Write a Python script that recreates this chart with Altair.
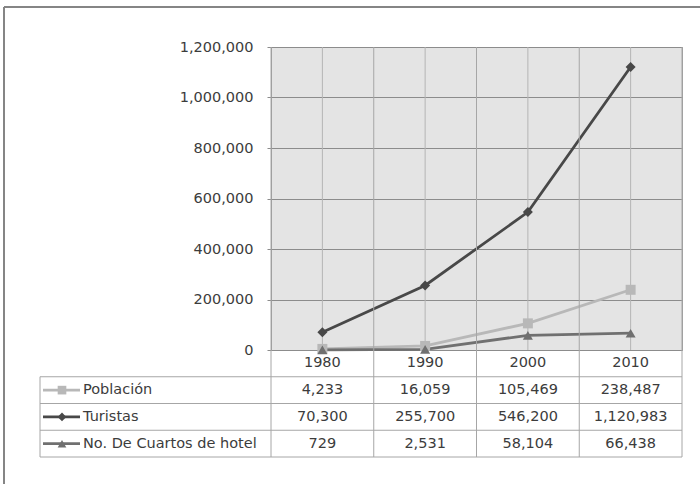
import altair as alt
import pandas as pd

# Source values
years = ["1980", "1990", "2000", "2010"]
series_names = ["Población", "Turistas", "No. De Cuartos de hotel"]
poblacion = [4233, 16059, 105469, 238487]
turistas = [70300, 255700, 546200, 1120983]
cuartos = [729, 2531, 58104, 66438]
y_ticks = [0, 200000, 400000, 600000, 800000, 1000000, 1200000]

series_colors = ["#b8b8b8", "#484848", "#707070"]
series_shapes = ["square", "diamond", "triangle-up"]

# Layout (pixels)
W, H = 411, 303
ROW_H = 26.75
HEADER_KEY = "header"
LABEL_COL = -231          # left edge of the row-label column
FONT = "DejaVu Sans"
FONT_SIZE = 14.5
TEXT_COLOR = "#3c3c3c"

rows = []
for name, vals in zip(series_names, [poblacion, turistas, cuartos]):
    for yr, v in zip(years, vals):
        rows.append({"year": yr, "series": name, "value": v})
df = pd.DataFrame(rows)
years_df = pd.DataFrame({"year": years, "row": [HEADER_KEY] * len(years)})
names_df = pd.DataFrame({"series": series_names})

x_scale = alt.Scale(type="band", domain=years, paddingInner=0, paddingOuter=0)
color_scale = alt.Scale(domain=series_names, range=series_colors)
shape_scale = alt.Scale(domain=series_names, range=series_shapes)

x_center = alt.X("year:N", scale=x_scale, bandPosition=0.5, axis=None)
x_start = alt.X("year:N", scale=x_scale, bandPosition=0, axis=None)

y_axis = alt.Axis(
    values=y_ticks, format=",.0f", formatType="number", title=None, domain=False,
    grid=True, gridColor="#8c8c8c", gridWidth=1,
    ticks=True, tickSize=4, tickColor="#8c8c8c",
    labelFont=FONT, labelFontSize=FONT_SIZE, labelColor=TEXT_COLOR, labelPadding=14,
)
y_val = alt.Y("value:Q", scale=alt.Scale(domain=[0, 1200000], nice=False), axis=y_axis)

# ---- plot area ----
vgrid_center = alt.Chart(years_df).mark_rule(color="#b4b4b4", strokeWidth=1).encode(
    x=x_center, y=alt.value(0), y2=alt.value(H)
)
vgrid_start = alt.Chart(years_df).mark_rule(color="#a6a6a6", strokeWidth=1).encode(
    x=x_start, y=alt.value(0), y2=alt.value(H + 4 * ROW_H)
)
right_edge = alt.Chart(years_df.head(1)).mark_rule(color="#a6a6a6", strokeWidth=1).encode(
    x=alt.value(W), y=alt.value(0), y2=alt.value(H + 4 * ROW_H)
)

lines = alt.Chart(df).mark_line(strokeWidth=2.8).encode(
    x=x_center,
    y=y_val,
    color=alt.Color("series:N", scale=color_scale, legend=None),
    detail="series:N",
)
points = alt.Chart(df).mark_point(filled=True, opacity=1, size=100).encode(
    x=x_center,
    y=y_val,
    color=alt.Color("series:N", scale=color_scale, legend=None),
    shape=alt.Shape("series:N", scale=shape_scale, legend=None),
)

plot = alt.layer(vgrid_center, lines, points)

# ---- data table below the plot ----
row_scale = alt.Scale(
    type="band", domain=[HEADER_KEY] + series_names,
    range=[H, H + 4 * ROW_H], paddingInner=0, paddingOuter=0,
)
y_row = alt.Y("series:N", scale=row_scale, axis=None)

header_text = alt.Chart(years_df).mark_text(
    font=FONT, fontSize=FONT_SIZE, color=TEXT_COLOR, baseline="middle"
).encode(
    x=x_center,
    y=alt.Y("row:N", scale=row_scale, axis=None),
    text="year:N",
)
value_text = alt.Chart(df).mark_text(
    font=FONT, fontSize=FONT_SIZE, color=TEXT_COLOR, baseline="middle"
).encode(
    x=x_center,
    y=y_row,
    text=alt.Text("value:Q", format=",.0f"),
)
row_lines_top = alt.Chart(names_df).mark_rule(color="#a6a6a6", strokeWidth=1).encode(
    y=alt.Y("series:N", scale=row_scale, axis=None, bandPosition=0),
    x=alt.value(LABEL_COL), x2=alt.value(W),
)
row_line_bottom = alt.Chart(names_df.tail(1)).mark_rule(color="#a6a6a6", strokeWidth=1).encode(
    y=alt.Y("series:N", scale=row_scale, axis=None, bandPosition=1),
    x=alt.value(LABEL_COL), x2=alt.value(W),
)
label_col_edge = alt.Chart(names_df.head(1)).mark_rule(color="#a6a6a6", strokeWidth=1).encode(
    x=alt.value(LABEL_COL),
    y=alt.Y("series:N", scale=row_scale, axis=None, bandPosition=0),
    y2=alt.value(H + 4 * ROW_H),
)
key_lines = alt.Chart(names_df).mark_rule(strokeWidth=2.8).encode(
    y=alt.Y("series:N", scale=row_scale, axis=None, bandPosition=0.5),
    x=alt.value(LABEL_COL + 3), x2=alt.value(LABEL_COL + 40),
    color=alt.Color("series:N", scale=color_scale, legend=None),
)
key_points = alt.Chart(names_df).mark_point(filled=True, opacity=1, size=75).encode(
    y=alt.Y("series:N", scale=row_scale, axis=None, bandPosition=0.5),
    x=alt.value(LABEL_COL + 22),
    color=alt.Color("series:N", scale=color_scale, legend=None),
    shape=alt.Shape("series:N", scale=shape_scale, legend=None),
)
key_labels = alt.Chart(names_df).mark_text(
    font=FONT, fontSize=FONT_SIZE, color=TEXT_COLOR, align="left", baseline="middle"
).encode(
    y=alt.Y("series:N", scale=row_scale, axis=None, bandPosition=0.5),
    x=alt.value(LABEL_COL + 43),
    text="series:N",
)

# outer frame of the figure
frame_top = alt.Chart(names_df.head(1)).mark_rule(color="#858585", strokeWidth=2).encode(
    x=alt.value(-267), x2=alt.value(W + 40), y=alt.value(-40)
)
frame_left = alt.Chart(names_df.head(1)).mark_rule(color="#858585", strokeWidth=2).encode(
    x=alt.value(-267), y=alt.value(-40), y2=alt.value(H + 160)
)

table = alt.layer(
    row_lines_top, row_line_bottom, label_col_edge, vgrid_start, right_edge,
    header_text, value_text, key_lines, key_points, key_labels,
    frame_top, frame_left,
)

chart = (
    alt.layer(plot, table)
    .resolve_scale(y="independent")
    .properties(
        width=W, height=H,
        padding={"left": 271, "top": 47, "right": 18, "bottom": 134},
        autosize=alt.AutoSizeParams(type="none"),
        background="white",
    )
    .configure_view(fill="#e4e4e4", stroke="#9a9a9a")
)

chart.save("out.html", embed_options={"renderer": "svg", "actions": False})
